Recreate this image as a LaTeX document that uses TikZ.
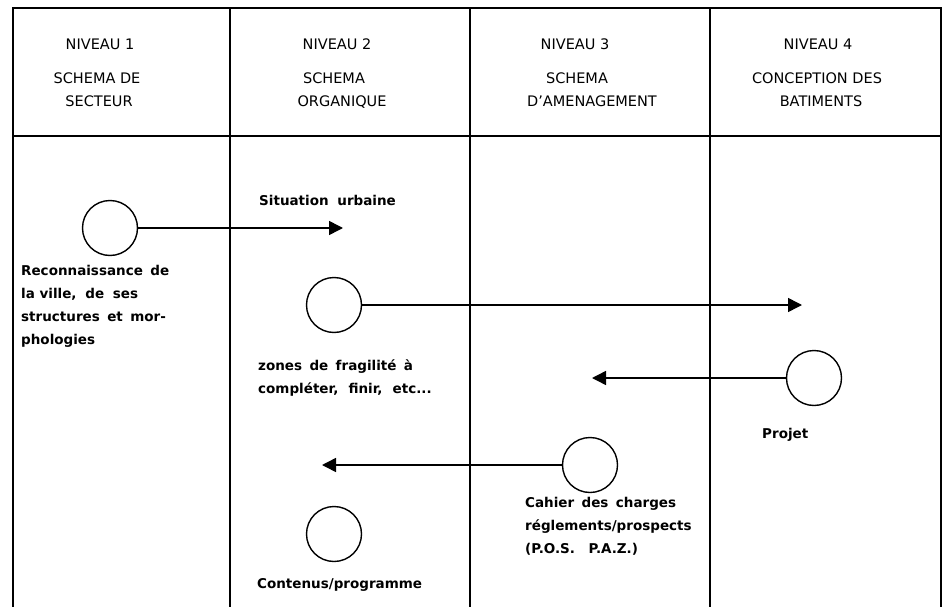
\documentclass[tikz,border=0pt]{standalone}
\usepackage{fontspec}
\setmainfont{DejaVu Sans}
\usetikzlibrary{arrows.meta}
\tikzset{
  frame/.style={line width=1.3pt, black},
  stage/.style={circle, draw, line width=1.4pt, minimum size=55pt, inner sep=0pt},
  flow/.style={line width=1.5pt, -{Triangle[length=14pt,width=14pt]}},
  lbl/.style={anchor=base west, inner sep=0pt, font=\fontsize{13.5}{16}\selectfont\bfseries},
  head/.style={anchor=base, inner sep=0pt, font=\fontsize{14.5}{17}\selectfont}
}
\begin{document}
\begin{tikzpicture}[x=1pt,y=-1pt]
\useasboundingbox (0,0) rectangle (947,607);
% frame and columns
\draw[frame] (13,607) -- (13,8) -- (941,8) -- (941,607);
\draw[frame] (13,136) -- (941,136);
\draw[frame] (230,8) -- (230,607);
\draw[frame] (470,8) -- (470,607);
\draw[frame] (710,8) -- (710,607);
% headers
\node[head] (h1a) at (100,50) {NIVEAU 1};
\node[head] (h1b) at (97,84) {SCHEMA DE};
\node[head] (h1c) at (99,107) {SECTEUR};
\node[head] (h2a) at (337,50) {NIVEAU 2};
\node[head] (h2b) at (334,84) {SCHEMA};
\node[head] (h2c) at (342,107) {ORGANIQUE};
\node[head] (h3a) at (575,50) {NIVEAU 3};
\node[head] (h3b) at (577,84) {SCHEMA};
\node[head] (h3c) at (592,107) {D'AMENAGEMENT};
\node[head] (h4a) at (818,50) {NIVEAU 4};
\node[head] (h4b) at (817,84) {CONCEPTION DES};
\node[head] (h4c) at (821,107) {BATIMENTS};
% stages
\node[stage] (c1) at (110,228) {};
\node[stage] (c2) at (334,305) {};
\node[stage] (c3) at (814,378) {};
\node[stage] (c4) at (590,465) {};
\node[stage] (c5) at (334,534) {};
% arrow ends
\coordinate (t1) at (343,228);
\coordinate (t2) at (802,305);
\coordinate (t3) at (592,378);
\coordinate (t4) at (322,465);
\draw[flow] (c1.east) -- (t1);
\draw[flow] (c2.east) -- (t2);
\draw[flow] (c3.west) -- (t3);
\draw[flow] (c4.west) -- (t4);
% labels
\node[lbl] (su) at (259,205) {Situation\hspace{0.3em} urbaine};
\node[lbl] (r1) at (21,275) {Reconnaissance\hspace{0.2em} de};
\node[lbl] (r2) at (21,298) {la ville,\hspace{0.3em} de\hspace{0.3em} ses};
\node[lbl] (r3) at (21,321) {structures\hspace{0.2em} et\hspace{0.2em} mor-};
\node[lbl] (r4) at (21,344) {phologies};
\node[lbl] (z1) at (258,370) {zones\hspace{0.2em} de\hspace{0.2em} fragilité\hspace{0.2em} à};
\node[lbl] (z2) at (258,393) {compléter,\hspace{0.4em} finir,\hspace{0.4em} etc...};
\node[lbl] (pj) at (762,438) {Projet};
\node[lbl] (k1) at (525,507) {Cahier\hspace{0.2em} des\hspace{0.2em} charges};
\node[lbl] (k2) at (525,530) {réglements/prospects};
\node[lbl] (k3) at (525,553) {(P.O.S.\hspace{1em}P.A.Z.)};
\node[lbl] (cp) at (257,588) {Contenus/programme};
\end{tikzpicture}
\end{document}
